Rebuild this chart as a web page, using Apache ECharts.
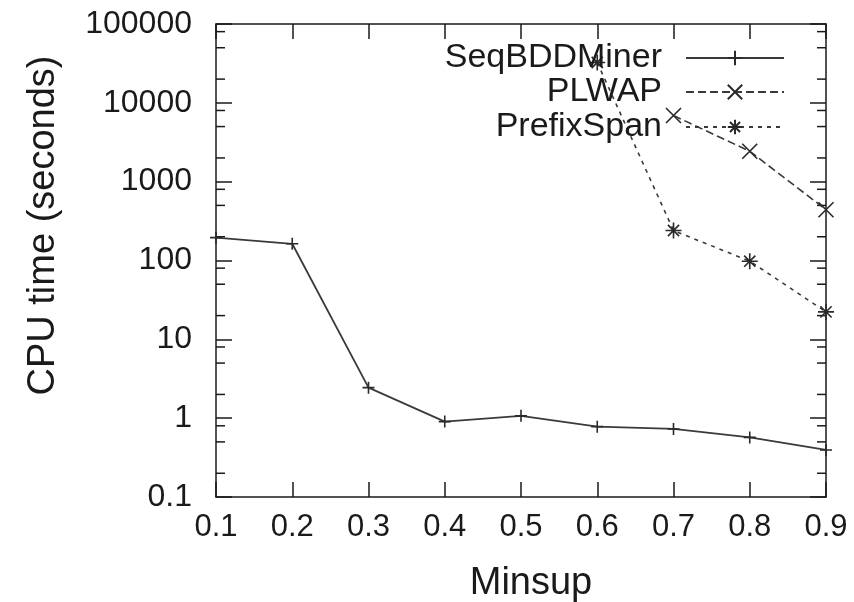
<!DOCTYPE html>
<html>
<head>
<meta charset="utf-8">
<script src="https://cdn.jsdelivr.net/npm/echarts@6/dist/echarts.min.js"></script>
<style>
  html, body { margin: 0; padding: 0; background: #ffffff; }
  #chart { width: 854px; height: 602px; }
</style>
</head>
<body>
<div id="chart"></div>
<script>
// Minimum support thresholds on the x axis
const minsup = ['0.1', '0.2', '0.3', '0.4', '0.5', '0.6', '0.7', '0.8', '0.9'];

// CPU time in seconds per miner (null = not run at that threshold)
const seqBDDMiner = [195, 163, 2.44, 0.905, 1.07, 0.78, 0.73, 0.57, 0.395];
const plwap = [null, null, null, null, null, null, 6900, 2430, 441];
const prefixSpan = [null, null, null, null, null, 32500, 240, 98, 22.3];

// Log axis labels and the minor tick values between decades
const yTickLabels = ['0.1', '1', '10', '100', '1000', '10000', '100000'];
const yMinorTicks = [0.2, 0.5, 0.8, 2, 5, 8, 20, 50, 80, 200, 500, 800,
                     2000, 5000, 8000, 20000, 50000, 80000];

const FONT = '"Liberation Sans", Arial, Helvetica, sans-serif';
const INK = '#1a1a1a';

const plusPath = 'path://M0,5L10,5M5,0L5,10';
const crossPath = 'path://M0,0L10,10M10,0L0,10';
const starPath = 'path://M0,5L10,5M5,0L5,10M1.5,1.5L8.5,8.5M8.5,1.5L1.5,8.5';

const chart = echarts.init(document.getElementById('chart'), null, { renderer: 'canvas' });

function yLabel(v) {
  const idx = Math.round(Math.log10(v)) + 1;
  return yTickLabels[idx] !== undefined ? yTickLabels[idx] : '';
}

function legendFor(name, top) {
  return {
    data: [name],
    orient: 'horizontal',
    align: 'right',
    right: 69,
    top: top,
    padding: 0,
    itemWidth: 98,
    itemHeight: 18,
    selectedMode: false,
    textStyle: {
      fontFamily: FONT, fontSize: 34, color: INK,
      padding: [0, 19, 0, 0]
    }
  };
}

const option = {
  backgroundColor: '#ffffff',
  animation: false,
  grid: { left: 216, right: 28, top: 24, bottom: 105, containLabel: false, outerBoundsMode: 'none' },
  legend: [
    legendFor('SeqBDDMiner', 41),
    legendFor('PLWAP', 75),
    legendFor('PrefixSpan', 110)
  ],
  xAxis: [
    {
      type: 'category',
      data: minsup,
      boundaryGap: false,
      position: 'bottom',
      name: 'Minsup',
      nameLocation: 'middle',
      nameGap: 68,
      nameTextStyle: { fontFamily: FONT, fontSize: 38, color: INK, padding: [0, 0, 0, 20] },
      axisLine: { show: true, lineStyle: { color: INK, width: 1.5 } },
      axisTick: { show: true, inside: true, length: 15, alignWithLabel: true, interval: 0,
                  lineStyle: { color: INK, width: 1.5 } },
      axisLabel: { show: true, interval: 0, margin: 15, fontFamily: FONT, fontSize: 31, color: INK },
      splitLine: { show: false }
    },
    {
      type: 'category',
      data: minsup,
      boundaryGap: false,
      position: 'top',
      axisLine: { show: true, lineStyle: { color: INK, width: 1.5 } },
      axisTick: { show: true, inside: true, length: 15, alignWithLabel: true, interval: 0,
                  lineStyle: { color: INK, width: 1.5 } },
      axisLabel: { show: false },
      splitLine: { show: false }
    }
  ],
  yAxis: [
    {
      type: 'log',
      logBase: 10,
      min: 0.1,
      max: 100000,
      splitNumber: 6,
      position: 'left',
      name: 'CPU time (seconds)',
      nameLocation: 'middle',
      nameRotate: 90,
      nameGap: 153,
      nameTextStyle: { fontFamily: FONT, fontSize: 38, color: INK, padding: [0, 0, 0, 70] },
      axisLine: { show: true, lineStyle: { color: INK, width: 1.5 } },
      axisTick: { show: true, inside: true, length: 16, lineStyle: { color: INK, width: 1.5 } },
      axisLabel: { show: true, margin: 24, fontFamily: FONT, fontSize: 32, color: INK, formatter: yLabel },
      splitLine: { show: false },
      minorTick: { show: false }
    },
    {
      type: 'log',
      logBase: 10,
      min: 0.1,
      max: 100000,
      splitNumber: 6,
      position: 'right',
      axisLine: { show: true, lineStyle: { color: INK, width: 1.5 } },
      axisTick: { show: true, inside: true, length: 16, lineStyle: { color: INK, width: 1.5 } },
      axisLabel: { show: false },
      splitLine: { show: false }
    }
  ],
  series: [
    {
      // short minor ticks on both vertical borders
      type: 'custom',
      name: 'minor ticks',
      silent: true,
      clip: false,
      xAxisIndex: 0,
      yAxisIndex: 0,
      data: yMinorTicks.map(v => [0, v]),
      encode: { x: 0, y: 1 },
      renderItem: function (params, api) {
        const y = api.coord([0, api.value(1)])[1];
        const cs = params.coordSys;
        const st = { stroke: INK, lineWidth: 1.5 };
        return {
          type: 'group',
          children: [
            { type: 'line', shape: { x1: cs.x, y1: y, x2: cs.x + 9, y2: y }, style: st },
            { type: 'line', shape: { x1: cs.x + cs.width - 9, y1: y, x2: cs.x + cs.width, y2: y }, style: st }
          ]
        };
      }
    },
    {
      name: 'SeqBDDMiner',
      type: 'line',
      data: seqBDDMiner,
      connectNulls: false,
      symbol: plusPath,
      symbolSize: 12,
      showAllSymbol: true,
      lineStyle: { color: '#3a3a3a', width: 1.8, type: 'solid' },
      itemStyle: { color: '#2a2a2a', borderColor: '#2a2a2a', borderWidth: 1.6 }
    },
    {
      name: 'PLWAP',
      type: 'line',
      data: plwap,
      symbol: crossPath,
      symbolSize: 15,
      showAllSymbol: true,
      lineStyle: { color: '#3a3a3a', width: 1.6, type: [8, 4] },
      itemStyle: { color: '#2a2a2a', borderColor: '#2a2a2a', borderWidth: 1.6 }
    },
    {
      name: 'PrefixSpan',
      type: 'line',
      data: prefixSpan,
      symbol: starPath,
      symbolSize: 16,
      showAllSymbol: true,
      lineStyle: { color: '#3a3a3a', width: 1.6, type: [4, 5] },
      itemStyle: { color: '#2a2a2a', borderColor: '#2a2a2a', borderWidth: 1.6 }
    }
  ]
};

chart.setOption(option);
</script>
</body>
</html>
